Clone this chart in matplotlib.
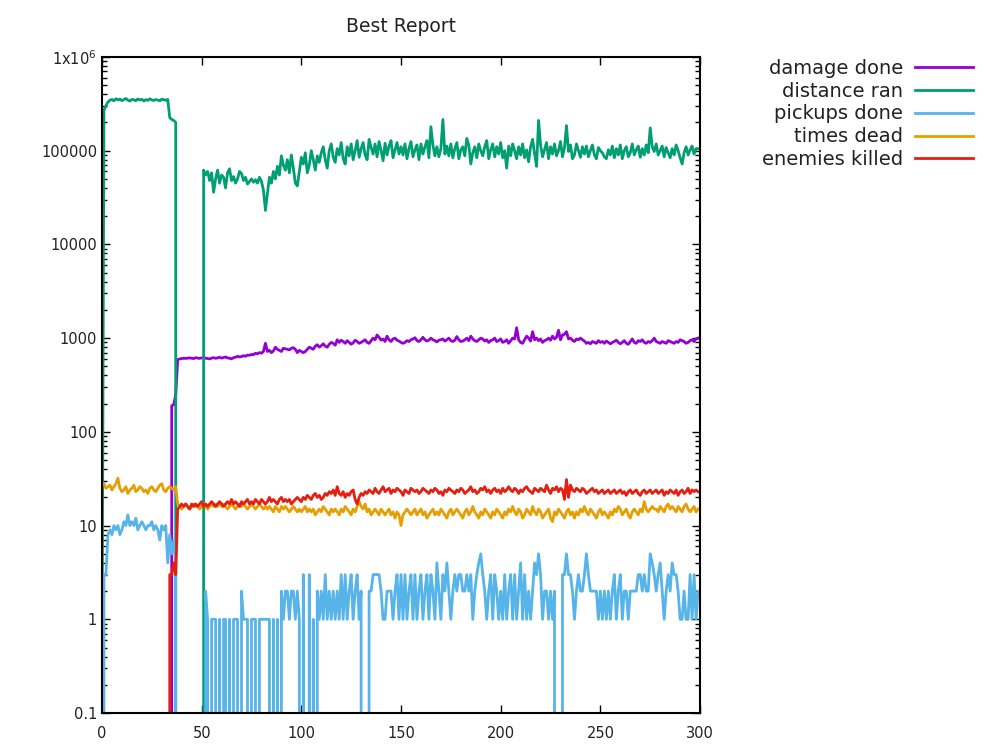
import matplotlib
matplotlib.use('Agg')
import matplotlib.pyplot as plt
import numpy as np
from matplotlib.ticker import LogLocator, NullFormatter, FixedLocator, FixedFormatter

plt.rcParams['font.family'] = ['DejaVu Sans']

# series names and colours (gnuplot defaults)
labels = ['damage done', 'distance ran', 'pickups done', 'times dead', 'enemies killed']
colors = ['#9400d3', '#009e73', '#56b4e9', '#e69f00', '#e51e10']

# ---- data, one value per generation (0..299) ----
damage_done = [0] * 35 + [190, 195, 250, 590,
    600, 605, 610, 608, 612, 615, 610, 605, 618, 612, 608, 615, 620, 610, 606, 600, 612, 618, 610, 615, 625, 612,
    620, 630, 615, 610, 600, 620, 625, 640, 630, 635, 650, 640, 660, 655, 670, 665, 690, 680, 700, 690,
    720, 880, 720, 740, 700, 730, 800, 760, 740, 720, 780, 770, 760, 750, 780, 790, 760, 700, 740, 720,
    700, 720, 760, 800, 780, 760, 820, 850, 800, 830, 870, 820, 800, 860, 900, 880, 840, 960, 900, 950,
    920, 880, 940, 900, 860, 890, 950, 920, 880, 900, 930, 960, 900, 880, 940, 1000, 960, 1080, 1020, 950,
    980, 920, 1050, 960, 920, 980, 1000, 950, 930, 900, 880, 900, 940, 920, 960, 980, 1010, 940, 920, 960,
    1020, 960, 930, 950, 1000, 960, 940, 910, 950, 960, 980, 930, 960, 1000, 940, 920, 950, 1040, 960, 920,
    930, 960, 1000, 940, 1050, 980, 940, 920, 960, 1000, 980, 930, 960, 900, 940, 960, 1000, 920, 940, 980,
    900, 920, 960, 880, 940, 1000, 980, 1290, 960, 900, 880, 960, 1050, 1000, 930, 1170, 960, 1000, 940, 980,
    900, 940, 960, 1000, 950, 1050, 980, 1020, 1210, 960, 1080, 1100, 1170, 980, 1000, 950, 920, 980, 960, 1000,
    960, 930, 880, 900, 870, 920, 900, 880, 940, 900, 920, 880, 930, 900, 870, 900, 920, 950, 900, 870,
    900, 940, 880, 860, 920, 980, 900, 880, 940, 920, 960, 900, 880, 920, 900, 940, 1000, 920, 900, 880,
    920, 900, 880, 940, 920, 900, 880, 920, 900, 960, 940, 920, 880, 900, 940, 960, 920, 980, 1000]

# distance ran, in thousands
distance_ran_k = [0.00017, 270, 300, 330,
    345, 352, 340, 358, 348, 355, 342, 350, 360, 346, 338, 352, 349, 341, 356, 347, 353, 339, 350, 344,
    357, 348, 343, 351, 346, 340, 354, 349, 345, 352,
    225, 215, 210, 200] + [0] * 13 + [
    62, 55, 60, 48, 58, 36, 50, 62, 45, 55, 52, 40, 58, 64, 48, 53, 45, 50, 60, 57,
    48, 52, 44, 47, 50, 46, 49, 45, 52, 47, 38, 23, 35, 52, 45, 60, 50, 68, 55, 88,
    70, 62, 80, 58, 90, 65, 45, 42, 60, 85, 72, 95, 58, 70, 100, 80, 62, 88, 75, 95,
    110, 80, 65, 100, 118, 85, 75, 105, 90, 122, 82, 72, 110, 88, 118, 80, 100, 128, 85, 105,
    122, 90, 80, 132, 108, 92, 118, 86, 125, 100, 78, 120, 90, 112, 128, 84, 102, 122, 92, 110,
    90, 118, 82, 105, 125, 86, 102, 115, 80, 118, 92, 110, 128, 84, 180, 115, 88, 110, 86, 105,
    215, 92, 112, 88, 118, 84, 105, 122, 82, 102, 110, 88, 135, 115, 72, 95, 110, 84, 118, 100,
    88, 110, 128, 82, 102, 118, 86, 110, 92, 122, 84, 100, 65, 112, 88, 118, 100, 82, 110, 90,
    118, 84, 102, 76, 110, 132, 92, 68, 210, 115, 86, 102, 122, 82, 110, 92, 118, 88, 100, 125,
    86, 108, 185, 98, 115, 82, 90, 118, 100, 85, 110, 92, 112, 86, 100, 115, 90, 82, 108, 100,
    95, 86, 82, 102, 90, 112, 84, 105, 90, 115, 82, 100, 110, 86, 95, 118, 90, 102, 112, 85,
    105, 90, 115, 95, 175, 110, 98, 118, 90, 100, 112, 86, 108, 95, 84, 105, 90, 115, 100, 84,
    72, 95, 110, 90, 102, 112, 92, 105, 105]

pickups_done = [0, 3, 3, 8, 9, 8, 10, 9, 10, 8, 9, 11, 10, 13, 10, 11, 10, 12, 9, 10,
    11, 10, 9, 10, 10, 11, 9, 10, 9, 7, 10, 9, 10, 4, 8, 5, 7, 4] + [0] * 13 + [
    0, 2, 1, 0, 1, 1, 1, 0, 1, 0, 1, 1, 0, 1, 0, 1, 1, 1, 0, 2, 1, 1, 1, 0, 1,
    1, 1, 0, 1, 1, 1, 1, 1, 1, 0, 1, 0, 1, 0, 2, 1, 2, 2, 1, 2, 2, 1, 2, 1,
    0, 3, 0, 0, 3, 0, 1, 0, 2, 1, 2, 1, 3, 1, 2, 1, 2, 1, 2, 1, 3, 1, 3, 1, 2,
    3, 1, 2, 3, 1, 2, 0, 0, 0, 2, 2, 3, 3, 3, 3, 2, 1, 1, 2, 2, 2, 1, 2, 3, 1, 3,
    1, 3, 1, 2, 3, 1, 3, 1, 2, 3, 1, 2, 3, 1, 3, 2, 1, 4, 2, 1, 3, 2, 4, 2, 1,
    2, 3, 2, 3, 3, 2, 2, 3, 2, 3, 1, 2, 3, 4, 5, 3, 2, 1, 2, 3, 1, 3, 2, 1,
    2, 1, 3, 1, 2, 3, 1, 3, 1, 2, 4, 1, 3, 1, 2, 1, 2, 4, 3, 5, 3, 1, 2, 2, 1,
    2, 1, 2, 0, 0, 0, 3, 3, 5, 3, 3, 2, 1, 2, 3, 2, 2, 3, 5, 3, 2, 2, 2, 2, 1,
    2, 1, 2, 1, 2, 1, 2, 3, 1, 2, 3, 1, 2, 2, 1, 2, 2, 2, 2, 3, 3, 2, 3, 2, 2,
    5, 4, 3, 2, 3, 4, 2, 1, 2, 3, 2, 4, 3, 3, 2, 1, 1, 2, 1, 1, 3, 1, 3, 1, 2]

times_dead = [27, 28, 25, 26, 27, 24, 26, 28, 32, 25, 23, 24, 26, 22, 24, 25, 27, 23, 24, 26,
    25, 23, 24, 22, 25, 26, 24, 23, 25, 27, 28, 24, 23, 25, 26, 25, 24, 26,
    17, 16, 15, 16, 17, 16, 15, 16, 17, 16, 16, 15, 16, 17, 16, 15, 16, 17, 16, 17,
    16, 17, 16, 17, 16, 15, 16, 17, 16, 15, 16, 17, 16, 17, 16, 15, 16, 17, 16, 15,
    16, 17, 16, 15, 16, 15, 16, 15, 14, 16, 15, 14, 16, 15, 16, 15, 14, 15, 16, 15,
    14, 15, 14, 15, 16, 14, 15, 14, 15, 13, 14, 15, 14, 16, 15, 14, 13, 15, 14, 15,
    14, 13, 15, 14, 16, 15, 14, 13, 15, 14, 16, 18, 16, 15, 17, 14, 15, 13, 14, 15,
    14, 13, 15, 14, 13, 14, 15, 13, 14, 12, 14, 13, 10, 13, 14, 15, 14, 13, 14, 15,
    13, 14, 15, 13, 14, 12, 13, 14, 15, 13, 14, 13, 15, 14, 13, 12, 14, 15, 13, 14,
    15, 14, 13, 12, 14, 15, 13, 14, 16, 14, 13, 12, 14, 13, 15, 14, 13, 12, 14, 13,
    15, 14, 13, 12, 14, 13, 15, 14, 16, 14, 13, 15, 14, 12, 13, 15, 14, 13, 16, 14,
    13, 15, 14, 12, 13, 14, 15, 12, 11, 14, 13, 15, 14, 13, 12, 14, 15, 13, 14, 12,
    14, 13, 15, 14, 16, 14, 13, 15, 14, 13, 12, 14, 15, 13, 14, 13, 12, 14, 13, 15,
    14, 16, 15, 13, 14, 15, 13, 12, 14, 15, 14, 13, 15, 14, 18, 15, 14, 15, 16, 15,
    15, 14, 16, 15, 14, 16, 17, 15, 16, 15, 14, 16, 15, 14, 16, 17, 15, 14, 15, 16, 14, 15]

enemies_killed = [0] * 34 + [3, 3, 4, 3,
    15, 16, 17, 16, 17, 16, 15, 17, 16, 17, 16, 17, 18, 16, 17, 16, 17, 18, 17, 16,
    17, 18, 17, 16, 17, 18, 17, 19, 17, 18, 17, 16, 18, 17, 18, 19, 17, 18, 17, 19,
    18, 17, 19, 18, 17, 18, 20, 18, 19, 18, 17, 19, 20, 18, 19, 18, 19, 17, 18, 19,
    20, 19, 18, 20, 19, 21, 20, 19, 21, 22, 20, 21, 19, 20, 22, 21, 23, 22, 24, 21,
    26, 22, 21, 23, 20, 22, 21, 23, 24, 19, 17, 20, 22, 21, 23, 22, 24, 23, 22, 25,
    23, 22, 24, 26, 23, 24, 25, 22, 24, 23, 25, 24, 23, 21, 24, 23, 22, 25, 24, 23,
    24, 22, 23, 25, 24, 23, 22, 24, 23, 25, 24, 22, 23, 21, 24, 23, 25, 24, 23, 22,
    24, 23, 25, 24, 22, 23, 24, 26, 23, 24, 22, 23, 25, 24, 26, 23, 24, 22, 24, 25,
    23, 24, 22, 25, 23, 24, 26, 24, 23, 25, 24, 22, 24, 23, 25, 26, 24, 23, 22, 25,
    24, 23, 25, 24, 23, 27, 24, 22, 25, 24, 26, 23, 25, 24, 19, 31, 20, 27, 24, 23,
    25, 24, 23, 25, 24, 22, 23, 24, 25, 23, 24, 22, 23, 24, 22, 23, 24, 22, 23, 24,
    22, 23, 24, 22, 23, 21, 23, 24, 22, 23, 24, 22, 21, 23, 24, 22, 23, 24, 22, 23,
    24, 22, 23, 24, 21, 23, 22, 24, 23, 22, 24, 21, 23, 24, 22, 23, 25, 22, 24, 23, 24, 23]

ytick_vals = [0.1, 1, 10, 100, 1000, 10000, 100000, 1000000]
ytick_text = ['0.1', '1', '10', '100', '1000', '10000', '100000', '1x10$^6$']
xtick_vals = [0, 50, 100, 150, 200, 250, 300]

fig = plt.figure(figsize=(9.86, 7.49), dpi=100)
ax = fig.add_axes([0.1034, 0.048, 0.6066, 0.876])

gens = np.arange(len(damage_done))
series = [np.array(damage_done, float),
          np.array(distance_ran_k, float) * 1000,
          np.array(pickups_done, float),
          np.array(times_dead, float),
          np.array(enemies_killed, float)]

lines = []
for ys, lab, col in zip(series, labels, colors):
    ln, = ax.plot(gens, ys, color=col, lw=2.0, label=lab)
    lines.append(ln)

ax.set_yscale('log', nonpositive='clip')
ax.set_xlim(0, 300)
ax.set_ylim(0.1, 1e6)
ax.xaxis.set_major_locator(FixedLocator(xtick_vals))
ax.yaxis.set_major_locator(FixedLocator(ytick_vals))
ax.yaxis.set_major_formatter(FixedFormatter(ytick_text))
ax.yaxis.set_minor_locator(LogLocator(base=10, subs=np.arange(2, 10), numticks=20))
ax.yaxis.set_minor_formatter(NullFormatter())
ax.tick_params(which='both', direction='in', top=True, right=True, labelsize=10.5,
               colors='black', labelcolor='#222222')
ax.tick_params(which='major', length=6, width=1)
ax.tick_params(which='minor', length=3.5, width=1)
ax.tick_params(axis='x', pad=9)
for sp in ax.spines.values():
    sp.set_linewidth(1.5)

ax.set_title('Best Report', fontsize=13.5, pad=18, color='#222222')

leg = fig.legend(handles=lines, loc='upper right', bbox_to_anchor=(0.995, 0.932),
                 frameon=False, markerfirst=False, fontsize=14, handlelength=3.0,
                 handletextpad=0.6, labelspacing=0.2, borderaxespad=0)
for t in leg.get_texts():
    t.set_color('#222222')

fig.savefig('out.png', dpi=100)
